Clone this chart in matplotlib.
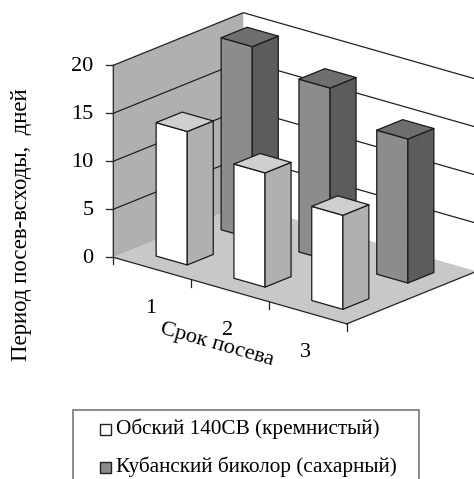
import matplotlib
matplotlib.use("Agg")
import matplotlib.pyplot as plt
from matplotlib.patches import Polygon, Rectangle

plt.rcParams['font.family'] = ['Liberation Serif', 'DejaVu Serif']

categories = ['1', '2', '3']
series_names = ['Обский 140CВ (кремнистый)', 'Кубанский биколор (сахарный)']
white_values = [13.9, 11.9, 9.8]
dark_values = [20, 18, 15]
y_ticks = [0, 5, 10, 15, 20]

W, H = 474, 479
fig = plt.figure(figsize=(W / 100, H / 100), dpi=100)
ax = fig.add_axes([0, 0, 1, 1])
ax.set_xlim(0, W)
ax.set_ylim(H, 0)
ax.axis('off')

O = (113.3, 257.3)
CAT = (77.8, 22.2)
DEP = (65.0, -26.3)
UNIT = 9.6
LW = 0.9


def P(c, d, v):
    return (O[0] + c * CAT[0] + d * DEP[0], O[1] + c * CAT[1] + d * DEP[1] - v * UNIT)


def poly(pts, fc, lw=LW, ec='#1a1a1a', z=1):
    ax.add_patch(Polygon(pts, closed=True, fc=fc, ec=ec, lw=lw, zorder=z, joinstyle='round'))


n = len(categories)
top = y_ticks[-1]
# walls
poly([P(0, 0, 0), P(0, 2, 0), P(0, 2, top), P(0, 0, top)], '#b0b0b0', lw=0, ec='none')
poly([P(0, 0, 0), P(n, 0, 0), P(n, 2, 0), P(0, 2, 0)], '#c8c8c8', lw=0, ec='none')
for v in y_ticks:
    a, b, c = P(0, 0, v), P(0, 2, v), P(n, 2, v)
    if v > 0:
        ax.plot([a[0], b[0], c[0]], [a[1], b[1], c[1]], color='#222222', lw=LW, zorder=2)
    t = a
    ax.plot([t[0] - 7, t[0]], [t[1], t[1]], color='#222222', lw=LW, zorder=2)
    ax.text(93.5, t[1] + 1, str(v), ha='right', va='center', fontsize=16, color='black')
# axes edges
a, b, c = P(0, 0, top), P(0, 0, 0), P(n, 0, 0)
ax.plot([a[0], b[0], c[0]], [a[1], b[1], c[1]], color='#222222', lw=LW, zorder=2)
d = P(n, 2, 0)
ax.plot([c[0], d[0]], [c[1], d[1]], color='#222222', lw=LW, zorder=2)
for i in range(n + 1):
    t = P(i, 0, 0)
    ax.plot([t[0], t[0]], [t[1], t[1] + 7], color='#222222', lw=LW, zorder=2)


def bar(c, d, v, front, side, top_c):
    w = 0.4
    c0, c1 = c + 0.3, c + 0.3 + w
    d0, d1 = d + 0.3, d + 0.3 + w
    poly([P(c0, d0, 0), P(c1, d0, 0), P(c1, d0, v), P(c0, d0, v)], front, z=3)
    poly([P(c1, d0, 0), P(c1, d1, 0), P(c1, d1, v), P(c1, d0, v)], side, z=3)
    poly([P(c0, d0, v), P(c1, d0, v), P(c1, d1, v), P(c0, d1, v)], top_c, z=3)


for i, v in enumerate(dark_values):
    bar(i, 1, v, '#8c8c8c', '#5c5c5c', '#6e6e6e')
for i, v in enumerate(white_values):
    bar(i, 0, v, '#ffffff', '#b0b0b0', '#cfcfcf')

for i, lab in enumerate(categories):
    x, y = P(i + 0.5, 0, 0)
    ax.text(x - 2, y + 40, lab, ha='center', va='center', fontsize=16, color='black')

ax.text(216.5, 345, 'Срок посева', rotation=-15.9, rotation_mode='anchor',
        ha='center', va='center', fontsize=16, color='black')
ax.text(22, 225, 'Период посев-всходы,  дней', rotation=90, ha='center', va='center',
        fontsize=16.4, color='black')

# legend
ax.add_patch(Rectangle((73.5, 410), 345.5, 80, fc='white', ec='#777777', lw=1.2))
rows = [(429, '#ffffff', series_names[0]), (467, '#8c8c8c', series_names[1])]
for y, col, name in rows:
    ax.add_patch(Rectangle((100.5, y - 5.5), 11, 11, fc=col, ec='#222222', lw=1.0, zorder=4))
    ax.text(116, y, name, ha='left', va='center', fontsize=15.3, color='black')

fig.savefig('out.png', dpi=100)
